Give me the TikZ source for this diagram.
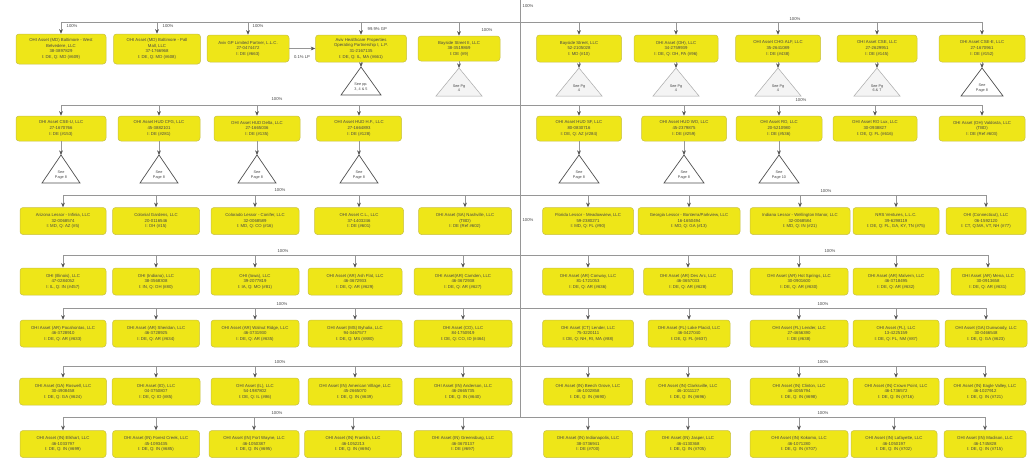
\documentclass[tikz,border=0pt]{standalone}
\usepackage{fontspec}
\setmainfont{Liberation Sans}
\usetikzlibrary{arrows.meta,calc}
\definecolor{boxfill}{RGB}{238,230,24}
\definecolor{boxline}{RGB}{200,192,70}
\definecolor{txt}{RGB}{70,70,70}
\definecolor{lin}{RGB}{150,150,150}
\definecolor{arrc}{RGB}{85,85,85}
\definecolor{tdark}{RGB}{80,80,80}
\definecolor{tlight}{RGB}{170,170,170}
\definecolor{tfill}{RGB}{244,244,244}
\tikzset{
  ebox/.style={draw=boxline, fill=boxfill, rounded corners=3pt, align=center,
    font=\fontsize{4.3}{5.6}\selectfont, text=txt, inner sep=1pt, line width=0.5pt,
    minimum height=27pt},
  arr/.style={draw=lin, line width=0.6pt, -{Stealth[length=4.6pt,width=3.8pt,color=arrc]}},
  hline/.style={draw=lin, line width=0.6pt},
  pct/.style={font=\fontsize{4.2}{5}\selectfont, text=txt, inner sep=0.5pt},
  tridark/.style={draw=tdark, fill=white, line width=0.7pt},
  trilight/.style={draw=tlight, fill=tfill, line width=0.5pt},
  tritxt/.style={font=\fontsize{3.8}{4.6}\selectfont, text=txt, align=center, inner sep=0pt}
}
\newcommand\seetri[6]{%
  \coordinate (#1) at (#2,#3);
  \draw[#5] (#1) -- ++(-#4/2,28) -- ++(#4,0) -- cycle;
  \node[tritxt] (#1t) at ([yshift=-20pt]#1) {#6};}
\begin{document}
\begin{tikzpicture}[x=1pt,y=-1pt]
\useasboundingbox[fill=white] (0,0) rectangle (1028,466);
% row line coordinates
\coordinate (top) at (520,0);
\coordinate (r1) at (0,22);
\coordinate (r2) at (0,105);
\coordinate (r3) at (0,195);
\coordinate (r4) at (0,255);
\coordinate (r5) at (0,308);
\coordinate (r6) at (0,366);
\coordinate (r7) at (0,417);

% ---------------- Row 1
\node[ebox, minimum width=90pt, minimum height=30pt] (A1) at (61,49) {OHI Asset (MD) Baltimore - West\\Belvedere, LLC\\38-3897829\\I: DE, Q: MD (\#609)};
\node[ebox, minimum width=87pt, minimum height=30pt] (A2) at (157,49) {OHI Asset (MD) Baltimore - Pall\\Mall, LLC\\37-1766968\\I: DE, Q: MD (\#608)};
\node[ebox, minimum width=82pt] (A3) at (248,48.5) {Aviv GP Limited Partner, L.L.C.\\27-0474472\\I: DE (\#663)};
\node[ebox, minimum width=91pt] (A4) at (361,48.5) {Aviv Healthcare Properties\\Operating Partnership I, L.P.\\31-2167135\\I: DE, Q: IL, MA (\#661)};
\node[ebox, minimum width=82pt, minimum height=25pt] (A5) at (459,48.5) {Bayside Street II, LLC\\38-3519869\\I: DE (\#9)};
\node[ebox, minimum width=85pt] (A6) at (579,48.5) {Bayside Street, LLC\\52-2105028\\I: MD (\#10)};
\node[ebox, minimum width=84pt] (A7) at (676,48.5) {OHI Asset (OH), LLC\\34-2759939\\I: DE, Q: OH, PA (\#96)};
\node[ebox, minimum width=85pt] (A8) at (778,48.5) {OHI Asset CHG ALF, LLC\\35-2641089\\I: DE (\#438)};
\node[ebox, minimum width=80pt] (A9) at (877,48.5) {OHI Asset CSE, LLC\\27-2629951\\I: DE (\#145)};
\node[ebox, minimum width=86pt] (A10) at (982,48.5) {OHI Asset CSE-E, LLC\\27-1670961\\I: DE (\#152)};

% ---------------- Row 2
\node[ebox, minimum width=90pt, minimum height=25pt] (B1) at (61,128.5) {OHI Asset CSE-U, LLC\\27-1670766\\I: DE (\#153)};
\node[ebox, minimum width=82pt, minimum height=25pt] (B2) at (159,128.5) {OHI Asset HUD CFG, LLC\\45-3882101\\I: DE (\#281)};
\node[ebox, minimum width=86pt, minimum height=25pt] (B3) at (257,128.5) {OHI Asset HUD Delta, LLC\\27-1665036\\I: DE (\#135)};
\node[ebox, minimum width=85pt, minimum height=25pt] (B4) at (359,128.5) {OHI Asset HUD H.F., LLC\\27-1664893\\I: DE (\#128)};
\node[ebox, minimum width=85pt, minimum height=25pt] (B5) at (579,128.5) {OHI Asset HUD SF, LLC\\80-0830716\\I: DE, Q: AZ (\#284)};
\node[ebox, minimum width=85pt, minimum height=25pt] (B6) at (684,128.5) {OHI Asset HUD WO, LLC\\45-2379875\\I: DE (\#259)};
\node[ebox, minimum width=86pt, minimum height=25pt] (B7) at (779,128.5) {OHI Asset RO, LLC\\20-5210980\\I: DE (\#536)};
\node[ebox, minimum width=84pt, minimum height=25pt] (B8) at (875,128.5) {OHI Asset RO Lux, LLC\\30-0938827\\I: DE, Q: FL (\#616)};
\node[ebox, minimum width=86pt, minimum height=25pt] (B9) at (982,128.5) {OHI Asset (OH) Valdosta, LLC\\(TBD)\\I: DE (Ref \#603)};

% ---------------- Row 3
\node[ebox, minimum width=86pt] (C1) at (63,221) {Arizona Lessor - Infinia, LLC\\32-0068574\\I: MD, Q: AZ (\#5)};
\node[ebox, minimum width=87pt] (C2) at (156,221) {Colonial Gardens, LLC\\20-0116546\\I: OH (\#15)};
\node[ebox, minimum width=88pt] (C3) at (255,221) {Colorado Lessor - Conifer, LLC\\32-0068589\\I: MD, Q: CO (\#16)};
\node[ebox, minimum width=89pt] (C4) at (359,221) {OHI Asset C.L., LLC\\37-1403246\\I: DE (\#601)};
\node[ebox, minimum width=93pt] (C5) at (465,221) {OHI Asset (SA) Nashville, LLC\\(TBD)\\I: DE (Ref \#602)};
\node[ebox, minimum width=91pt] (C6) at (588,221) {Florida Lessor - Meadowview, LLC\\59-2380271\\I: MD, Q: FL (\#90)};
\node[ebox, minimum width=102pt] (C7) at (689,221) {Georgia Lessor - Bonterra/Parkview, LLC\\16-1650494\\I: MD, Q: GA (\#13)};
\node[ebox, minimum width=100pt] (C8) at (800,221) {Indiana Lessor - Wellington Manor, LLC\\32-0068584\\I: MD, Q: IN (\#21)};
\node[ebox, minimum width=86pt] (C9) at (896,221) {NRS Ventures, L.L.C.\\39-6298119\\I: DE, Q: FL, GA, KY, TN (\#75)};
\node[ebox, minimum width=80pt] (C10) at (986,221) {OHI (Connecticut), LLC\\06-1592120\\I: CT, Q:MA, VT, NH (\#77)};

% ---------------- Row 4
\node[ebox, minimum width=86pt] (D1) at (63,281.5) {OHI (Illinois), LLC\\47-0284052\\I: IL, Q: IN (\#457)};
\node[ebox, minimum width=87pt] (D2) at (156,281.5) {OHI (Indiana), LLC\\38-3568308\\I: IN, Q: OH (\#80)};
\node[ebox, minimum width=88pt] (D3) at (255,281.5) {OHI (Iowa), LLC\\39-2077819\\I: IA, Q: MO (\#81)};
\node[ebox, minimum width=94pt] (D4) at (355,281.5) {OHI Asset (AR) Ash Flat, LLC\\46-3672933\\I: DE, Q: AR (\#629)};
\node[ebox, minimum width=98pt] (D5) at (463,281.5) {OHI Asset(AR) Camden, LLC\\46-3672938\\I: DE, Q: AR (\#627)};
\node[ebox, minimum width=91pt] (D6) at (588,281.5) {OHI Asset (AR) Conway, LLC\\81-1721053\\I: DE, Q: AR (\#636)};
\node[ebox, minimum width=89pt] (D7) at (688,281.5) {OHI Asset (AR) Des Arc, LLC\\46-3657033\\I: DE, Q: AR (\#628)};
\node[ebox, minimum width=98pt] (D8) at (799,281.5) {OHI Asset (AR) Hot Springs, LLC\\30-0901600\\I: DE, Q: AR (\#630)};
\node[ebox, minimum width=86pt] (D9) at (896,281.5) {OHI Asset (AR) Malvern, LLC\\46-3718495\\I: DE, Q: AR (\#632)};
\node[ebox, minimum width=74pt] (D10) at (988,281.5) {OHI Asset (AR) Mena, LLC\\30-0913658\\I: DE, Q: AR (\#631)};

% ---------------- Row 5
\node[ebox, minimum width=86pt] (E1) at (63,333.5) {OHI Asset (AR) Pocahontas, LLC\\46-3728910\\I: DE, Q: AR (\#633)};
\node[ebox, minimum width=87pt] (E2) at (156,333.5) {OHI Asset (AR) Sheridan, LLC\\46-3728925\\I: DE, Q: AR (\#634)};
\node[ebox, minimum width=88pt] (E3) at (255,333.5) {OHI Asset (AR) Walnut Ridge, LLC\\46-3731930\\I: DE, Q: AR (\#635)};
\node[ebox, minimum width=94pt] (E4) at (355,333.5) {OHI Asset (MS) Byhalia, LLC\\94-3467577\\I: DE, Q: MS (\#880)};
\node[ebox, minimum width=98pt] (E5) at (463,333.5) {OHI Asset (CO), LLC\\84-1750919\\I: DE, Q: CO, ID (\#464)};
\node[ebox, minimum width=91pt] (E6) at (588,333.5) {OHI Asset (CT) Lender, LLC\\75-3220111\\I: DE, Q: NH, RI, MA (\#88)};
\node[ebox, minimum width=82pt] (E7) at (689,333.5) {OHI Asset (FL) Lake Placid, LLC\\46-3427040\\I: DE, Q: FL (\#637)};
\node[ebox, minimum width=98pt] (E8) at (799,333.5) {OHI Asset (FL) Lender, LLC\\27-4656390\\I: DE (\#638)};
\node[ebox, minimum width=86pt] (E9) at (896,333.5) {OHI Asset (FL), LLC\\13-4225159\\I: DE, Q: FL, NM (\#87)};
\node[ebox, minimum width=82pt] (E10) at (986,333.5) {OHI Asset (GA) Dunwoody, LLC\\30-0466548\\I: DE, Q: GA (\#623)};

% ---------------- Row 6
\node[ebox, minimum width=87pt] (F1) at (63,391.5) {OHI Asset (GA) Roswell, LLC\\30-4908458\\I: DE, Q: GA (\#624)};
\node[ebox, minimum width=88pt] (F2) at (156,391.5) {OHI Asset (ID), LLC\\04-3750807\\I: DE, Q: ID (\#85)};
\node[ebox, minimum width=88pt] (F3) at (255,391.5) {OHI Asset (IL), LLC\\54-1987802\\I: DE, Q: IL (\#86)};
\node[ebox, minimum width=94pt] (F4) at (355,391.5) {OHI Asset (IN) American Village, LLC\\45-2665070\\I: DE, Q: IN (\#639)};
\node[ebox, minimum width=98pt] (F5) at (463,391.5) {OHI Asset (IN) Anderson, LLC\\46-2665735\\I: DE, Q: IN (\#640)};
\node[ebox, minimum width=89pt] (F6) at (588,391.5) {OHI Asset (IN) Beech Grove, LLC\\46-1002858\\I: DE, Q: IN (\#690)};
\node[ebox, minimum width=85pt] (F7) at (688,391.5) {OHI Asset (IN) Clarksville, LLC\\46-1011127\\I: DE, Q: IN (\#696)};
\node[ebox, minimum width=98pt] (F8) at (799,391.5) {OHI Asset (IN) Clinton, LLC\\46-4055794\\I: DE, Q: IN (\#698)};
\node[ebox, minimum width=86pt] (F9) at (896,391.5) {OHI Asset (IN) Crown Point, LLC\\46-1736572\\I: DE, Q: IN (\#716)};
\node[ebox, minimum width=82pt] (F10) at (985,391.5) {OHI Asset (IN) Eagle Valley, LLC\\46-1027912\\I: DE, Q: IN (\#721)};

% ---------------- Row 7
\node[ebox, minimum width=86pt] (G1) at (63,444) {OHI Asset (IN) Elkhart, LLC\\46-1033797\\I: DE, Q: IN (\#699)};
\node[ebox, minimum width=87pt] (G2) at (156,444) {OHI Asset (IN) Forest Creek, LLC\\45-1093435\\I: DE, Q: IN (\#685)};
\node[ebox, minimum width=90pt] (G3) at (254,444) {OHI Asset (IN) Fort Wayne, LLC\\46-1050387\\I: DE, Q: IN (\#695)};
\node[ebox, minimum width=97pt] (G4) at (353,444) {OHI Asset (IN) Franklin, LLC\\46-1052213\\I: DE, Q: IN (\#694)};
\node[ebox, minimum width=98pt] (G5) at (463,444) {OHI Asset (IN) Greensburg, LLC\\46-3670137\\I: DE (\#697)};
\node[ebox, minimum width=89pt] (G6) at (588,444) {OHI Asset (IN) Indianapolis, LLC\\38-3736941\\I: DE (\#700)};
\node[ebox, minimum width=85pt] (G7) at (688,444) {OHI Asset (IN) Jasper, LLC\\46-4130368\\I: DE, Q: IN (\#705)};
\node[ebox, minimum width=98pt] (G8) at (799,444) {OHI Asset (IN) Kokomo, LLC\\46-1071280\\I: DE, Q: IN (\#707)};
\node[ebox, minimum width=86pt] (G9) at (894,444) {OHI Asset (IN) Lafayette, LLC\\46-1050197\\I: DE, Q: IN (\#702)};
\node[ebox, minimum width=82pt] (G10) at (985,444) {OHI Asset (IN) Madison, LLC\\46-1745828\\I: DE, Q: IN (\#715)};

% ---------------- trunk and row lines
\draw[hline] (top) -- (top |- r7);
\draw[hline] (A1.north |- r1) -- (A10.north |- r1);
\draw[hline] (B1.north |- r2) -- (B9.north |- r2);
\draw[hline] (C1.north |- r3) -- (C10.north |- r3);
\draw[hline] (D1.north |- r4) -- (D10.north |- r4);
\draw[hline] (E1.north |- r5) -- (E10.north |- r5);
\draw[hline] (F1.north |- r6) -- (F10.north |- r6);
\draw[hline] (G1.north |- r7) -- (G10.north |- r7);

% ---------------- arrows from row lines
\foreach \n in {A1,A2,A3,A4,A5,A6,A7,A8,A9,A10}{\draw[arr] (\n.north |- r1) -- (\n.north);}
\foreach \n in {B1,B2,B3,B4,B5,B6,B7,B8,B9}{\draw[arr] (\n.north |- r2) -- (\n.north);}
\foreach \n in {C1,C2,C3,C4,C5,C6,C7,C8,C9,C10}{\draw[arr] (\n.north |- r3) -- (\n.north);}
\foreach \n in {D1,D2,D3,D4,D5,D6,D7,D8,D9,D10}{\draw[arr] (\n.north |- r4) -- (\n.north);}
\foreach \n in {E1,E2,E3,E4,E5,E6,E7,E8,E9,E10}{\draw[arr] (\n.north |- r5) -- (\n.north);}
\foreach \n in {F1,F2,F3,F4,F5,F6,F7,F8,F9,F10}{\draw[arr] (\n.north |- r6) -- (\n.north);}
\foreach \n in {G1,G2,G3,G4,G5,G6,G7,G8,G9,G10}{\draw[arr] (\n.north |- r7) -- (\n.north);}
\draw[arr] (A3) -- (A4);

% ---------------- triangles
\seetri{TA4}{361}{67}{40}{tridark}{See pp.\\3, 4 \& 5}
\seetri{TA5}{459}{68}{46}{trilight}{See Pg\\4}
\seetri{TA6}{579}{68}{46}{trilight}{See Pg\\4}
\seetri{TA7}{676}{68}{46}{trilight}{See Pg\\4}
\seetri{TA8}{778}{68}{46}{trilight}{See Pg\\4}
\seetri{TA9}{877}{68}{46}{trilight}{See Pg\\6 \& 7}
\seetri{TA10}{982}{68}{42}{tridark}{See\\Page 8}
\seetri{TB1}{61}{155}{38}{tridark}{See\\Page 8}
\seetri{TB2}{159}{155}{38}{tridark}{See\\Page 8}
\seetri{TB3}{257}{155}{38}{tridark}{See\\Page 8}
\seetri{TB4}{359}{155}{38}{tridark}{See\\Page 8}
\seetri{TB5}{579}{155}{40}{tridark}{See\\Page 8}
\seetri{TB6}{684}{155}{40}{tridark}{See\\Page 8}
\seetri{TB7}{779}{155}{40}{tridark}{See\\Page 10}
\foreach \n in {A4,A5,A6,A7,A8,A9,A10,B1,B2,B3,B4,B5,B6,B7}{\draw[arr] (\n.south) -- (T\n);}

% ---------------- percentage labels
\node[pct, anchor=west] (p0) at (522,6) {100\%};
\node[pct, anchor=west] (p1) at (66,26) {100\%};
\node[pct, anchor=west] (p2) at (162,26) {100\%};
\node[pct, anchor=west] (p3) at (252,26) {100\%};
\node[pct, anchor=west] (p4) at (367,29) {99.9\% GP};
\node[pct] (p5) at (487,30) {100\%};
\node[pct] (p6) at (302,57) {0.1\% LP};
\node[pct] (p7) at (795,19) {100\%};
\node[pct] (p8) at (277,99) {100\%};
\node[pct] (p9) at (801,100) {100\%};
\node[pct] (p10) at (280,190) {100\%};
\node[pct] (p11) at (826,191) {100\%};
\node[pct] (p12) at (528,220) {100\%};
\node[pct] (p13) at (283,251) {100\%};
\node[pct] (p14) at (830,251) {100\%};
\node[pct] (p15) at (282,304) {100\%};
\node[pct] (p16) at (823,304) {100\%};
\node[pct] (p17) at (280,362) {100\%};
\node[pct] (p18) at (823,362) {100\%};
\node[pct] (p19) at (277,413) {100\%};
\node[pct] (p20) at (823,413) {100\%};
\end{tikzpicture}
\end{document}
